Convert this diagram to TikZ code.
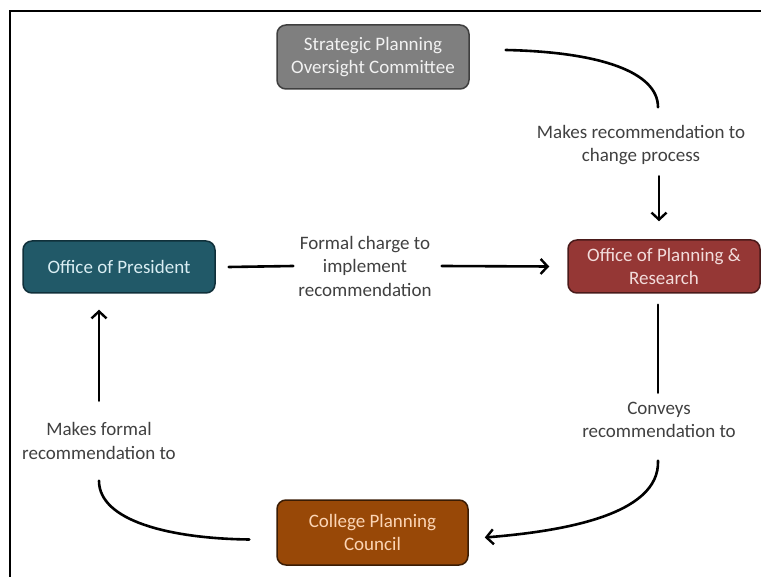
\documentclass[tikz,border=0pt]{standalone}
\usepackage{fontspec}
\setmainfont{Carlito}
\usetikzlibrary{arrows.meta,calc}
\definecolor{gfill}{HTML}{7F7F7F}
\definecolor{gdraw}{HTML}{3F3F3F}
\definecolor{gtext}{HTML}{F2F2F2}
\definecolor{tfill}{HTML}{215968}
\definecolor{tdraw}{HTML}{10303A}
\definecolor{ttext}{HTML}{DAEEF3}
\definecolor{rfill}{HTML}{953735}
\definecolor{rdraw}{HTML}{4A1A1A}
\definecolor{rtext}{HTML}{F2DCDB}
\definecolor{bfill}{HTML}{984807}
\definecolor{bdraw}{HTML}{3A1C04}
\definecolor{btext}{HTML}{FCD5B5}
\definecolor{ltext}{HTML}{404040}
\begin{document}
\begin{tikzpicture}[x=1pt,y=-1pt,
  box/.style={rounded corners=9pt, line width=1.5pt, align=center,
    font=\fontsize{19}{23}\selectfont, inner sep=0pt},
  lbl/.style={align=center, text=ltext, font=\fontsize{19}{23.5}\selectfont, inner sep=0pt},
  conn/.style={line width=2.6pt, line cap=round},
  arr/.style={conn, -{Straight Barb[length=7pt,width=15pt,line width=2.4pt]}}
]
\useasboundingbox (0,0) rectangle (761,577);
\draw[line width=1.5pt] (10,577) -- (10,11) -- (761,11);

\node[box, draw=gdraw, fill=gfill, text=gtext, minimum width=192pt, minimum height=64pt] (spoc) at (373,57) {Strategic Planning\\Oversight Committee};
\node[box, draw=rdraw, fill=rfill, text=rtext, minimum width=192pt, minimum height=53pt] (opr) at (664,266.5) {Office of Planning \&\\Research};
\node[box, draw=tdraw, fill=tfill, text=ttext, minimum width=192pt, minimum height=52pt] (pres) at (119,267) {Office of President};
\node[box, draw=bdraw, fill=bfill, text=btext, minimum width=191pt, minimum height=65pt] (cpc) at (372.5,532.5) {College Planning\\Council};

\node[lbl] (mrc) at (641,145) {Makes recommendation to\\change process};
\node[lbl] (fc) at (365,266) {Formal charge to\\implement\\recommendation};
\node[lbl] (conv) at (659,420) {Conveys\\recommendation to};
\node[lbl] (mfr) at (99,441) {Makes formal\\recommendation to};

% SPOC -> label -> OPR
\draw[conn] ($(spoc.east)+(36,-7)$) .. controls +(95,2) and +(0,-35) .. ($(opr.north)+(-6,-132)$);
\draw[arr] ($(opr.north)+(-5,-63)$) -- ($(opr.north)+(-5,-18)$);

% President -> label -> OPR
\draw[conn] ($(pres.east)+(13,0)$) -- ($(fc.west)+(-5,0)$);
\draw[arr] ($(fc.east)+(10,0)$) -- ($(opr.west)+(-18,0)$);

% OPR -> label -> CPC
\draw[conn] ($(opr.south)+(-6,11)$) -- ($(opr.south)+(-6,99)$);
\draw[arr] ($(opr.south)+(-6,167)$) .. controls +(2,55) and +(75,-6) .. ($(cpc.east)+(16,5)$);

% CPC -> label -> President
\draw[conn] ($(cpc.west)+(-27,7)$) .. controls +(-80,-1) and +(0,40) .. ($(pres.south)+(-20,187)$);
\draw[arr] ($(pres.south)+(-20,107)$) -- ($(pres.south)+(-20,16)$);
\end{tikzpicture}
\end{document}
